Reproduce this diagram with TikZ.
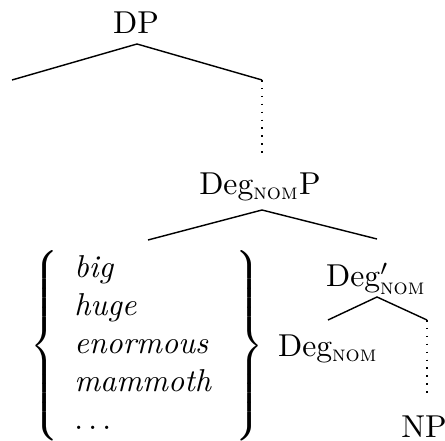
\documentclass[tikz,border=0pt]{standalone}
\usepackage{amsmath}
\begin{document}
\begin{tikzpicture}[x=0.316pt,y=-0.316pt,
  label/.style={inner sep=0pt, font=\normalsize},
  branch/.style={line width=0.45pt},
  path/.style={line width=0.5pt, dotted}]
\useasboundingbox (0,0) rectangle (445,441);

% category labels
\node[label] (dp)    at (136,23)  {DP};
\node[label] (degp)  at (260,187) {Deg$_{\textsc{nom}}$P};
\node[label] (degb)  at (376,279) {Deg$'_{\textsc{nom}}$};
\node[label] (deg)   at (328,349) {Deg$_{\textsc{nom}}$};
\node[label] (np)    at (424,427) {NP};

% set of degree adjectives
\node[label, anchor=north] (adjs) at (147,250)
  {$\left\{\begin{array}{l}
     \textit{big}\\
     \textit{huge}\\
     \textit{enormous}\\
     \textit{mammoth}\\
     \ldots
   \end{array}\;\right\}$};

% branching points
\coordinate (dpTop)   at (137,44);
\coordinate (dpL)     at (12,80);
\coordinate (dpR)     at (262,80);
\coordinate (dpPath)  at (262,158);
\coordinate (degpTop) at (262,210);
\coordinate (degpL)   at (148,240);
\coordinate (degpR)   at (377,239);
\coordinate (degbTop) at (377,297);
\coordinate (degbL)   at (328,320);
\coordinate (degbR)   at (427,320);
\coordinate (npPath)  at (427,397);

% branches
\draw[branch] (dpL) -- (dpTop) -- (dpR);
\draw[path] (dpR) -- (dpPath);
\draw[branch] (degpL) -- (degpTop) -- (degpR);
\draw[branch] (degbL) -- (degbTop) -- (degbR);
\draw[path] (degbR) -- (npPath);
\end{tikzpicture}
\end{document}
